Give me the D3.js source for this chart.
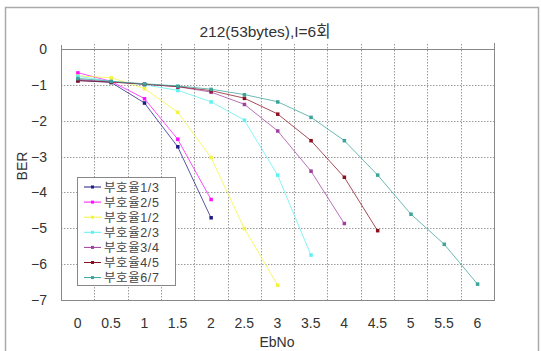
<!DOCTYPE html>
<html>
<head>
<meta charset="utf-8">
<script src="https://cdn.jsdelivr.net/npm/d3@7"></script>
<style>
  body { margin: 0; background: #fff; }
  text { font-family: "Liberation Sans", Arial, "Noto Sans CJK KR", sans-serif; fill: #333; }
</style>
</head>
<body>
<svg id="chart"></svg>
<script>
var W = 541, H = 351;

// x categories (EbNo)
var ebno = ["0","0.5","1","1.5","2","2.5","3","3.5","4","4.5","5","5.5","6"];
var yTicks = [0,-1,-2,-3,-4,-5,-6,-7];

var names = ["부호율1/3","부호율2/5","부호율1/2","부호율2/3","부호율3/4","부호율4/5","부호율6/7"];
var colors = ["#1c1c86","#ff10ff","#f4f43a","#5ff0f0","#a0409c","#8a1020","#3aa39a"];

// log10(BER) per series, starting at EbNo 0
var r13 = [-0.88,-0.93,-1.50,-2.72,-4.70];
var r25 = [-0.66,-0.90,-1.38,-2.51,-4.19];
var r12 = [-0.75,-0.80,-1.10,-1.76,-3.02,-5.00,-6.58];
var r23 = [-0.76,-0.90,-1.00,-1.15,-1.47,-1.98,-3.51,-5.74];
var r34 = [-0.85,-0.92,-0.98,-1.05,-1.20,-1.54,-2.28,-3.40,-4.86];
var r45 = [-0.88,-0.92,-0.98,-1.05,-1.16,-1.37,-1.81,-2.55,-3.57,-5.06];
var r67 = [-0.82,-0.90,-0.97,-1.03,-1.12,-1.27,-1.47,-1.90,-2.55,-3.51,-4.60,-5.44,-6.55];
var series = [r13,r25,r12,r23,r34,r45,r67];

var pLeft = 61, pRight = 494, pTop = 49, pBottom = 300;

var svg = d3.select("#chart").attr("width", W).attr("height", H);

// outer frame
svg.append("path")
  .attr("d", `M5.5,${H} V7.5 H538.5 V${H}`)
  .attr("fill","none").attr("stroke","#aaa").attr("stroke-width",1.5);

var x = d3.scaleBand().domain(ebno).range([pLeft, pRight]);
var y = d3.scaleLinear().domain([-7, 0]).range([pBottom, pTop]);

// gridlines
var bounds = ebno.map(function(d){ return x(d); }).slice(1);
svg.append("g").selectAll("line")
  .data(bounds).enter().append("line")
    .attr("x1", function(d){ return Math.round(d)+0.5; })
    .attr("x2", function(d){ return Math.round(d)+0.5; })
    .attr("y1", pTop-5).attr("y2", pBottom)
    .attr("stroke","#9a9a9a").attr("stroke-dasharray","1.5,1.5");
svg.append("g").selectAll("line")
  .data(yTicks.slice(1,-1)).enter().append("line")
    .attr("x1", pLeft).attr("x2", pRight)
    .attr("y1", function(d){ return Math.round(y(d))+0.5; })
    .attr("y2", function(d){ return Math.round(y(d))+0.5; })
    .attr("stroke","#9a9a9a").attr("stroke-dasharray","1.5,1.5");

// plot frame
svg.append("rect")
  .attr("x", pLeft+0.5).attr("y", pTop+0.5)
  .attr("width", pRight-pLeft).attr("height", pBottom-pTop)
  .attr("fill","none").attr("stroke","#888");
svg.append("line").attr("x1",pLeft+0.5).attr("x2",pLeft+0.5).attr("y1",pTop-4).attr("y2",pTop)
  .attr("stroke","#888");
svg.append("line").attr("x1",pRight+0.5).attr("x2",pRight+0.5).attr("y1",pTop-6).attr("y2",pTop)
  .attr("stroke","#888");

// axes labels
var xAxis = d3.axisBottom(x).tickSize(0).tickPadding(0);
var gx = svg.append("g").attr("transform", `translate(0,${pBottom+18})`).call(xAxis);
gx.select(".domain").remove();
gx.selectAll("text").attr("font-size", 14).style("fill","#333");

var yAxis = d3.axisLeft(y).tickValues(yTicks).tickSize(0).tickPadding(0).tickFormat(d3.format("d"));
var gy = svg.append("g").attr("transform", `translate(${pLeft-14},0)`).call(yAxis);
gy.select(".domain").remove();
gy.selectAll("text").attr("font-size", 14).style("fill","#333");

svg.append("text").attr("x", 265).attr("y", 37).attr("text-anchor","middle")
  .attr("font-size", 15.5).text("212(53bytes),I=6회");
svg.append("text").attr("x", 277).attr("y", 347).attr("text-anchor","middle")
  .attr("font-size", 14).text("EbNo");
svg.append("text").attr("transform","translate(27,166) rotate(-90)")
  .attr("text-anchor","middle").attr("font-size", 14).text("BER");

// series
var line = d3.line()
  .x(function(d,i){ return x(ebno[i]) + x.bandwidth()/2; })
  .y(function(d){ return y(d); });

series.forEach(function(s, k){
  var g = svg.append("g");
  g.append("path").datum(s)
    .attr("d", line)
    .attr("fill","none").attr("stroke", colors[k]).attr("stroke-width",1).attr("opacity",0.75);
  g.selectAll("rect").data(s).enter().append("rect")
    .attr("x", function(d,i){ return x(ebno[i]) + x.bandwidth()/2 - 1.5; })
    .attr("y", function(d){ return y(d) - 1.5; })
    .attr("width", 3.5).attr("height", 3.5)
    .attr("fill", colors[k]);
});

// legend
var lg = svg.append("g");
lg.append("rect").attr("x",77.5).attr("y",177.5).attr("width",98).attr("height",108)
  .attr("fill","#fff").attr("stroke","#888");
var rows = lg.selectAll("g.row").data(names).enter().append("g")
  .attr("transform", function(d,i){ return `translate(0,${187+i*15.1})`; });
rows.append("line").attr("x1",84).attr("x2",101).attr("y1",0).attr("y2",0)
  .attr("stroke", function(d,i){ return colors[i]; });
rows.append("rect").attr("x",91).attr("y",-1.5).attr("width",3).attr("height",3)
  .attr("fill", function(d,i){ return colors[i]; });
rows.append("text").attr("x",104).attr("y",4.5).attr("font-size",12.5)
  .style("fill","#444")
  .style("letter-spacing","0.6px")
  .text(function(d){ return d; });
</script>
</body>
</html>
